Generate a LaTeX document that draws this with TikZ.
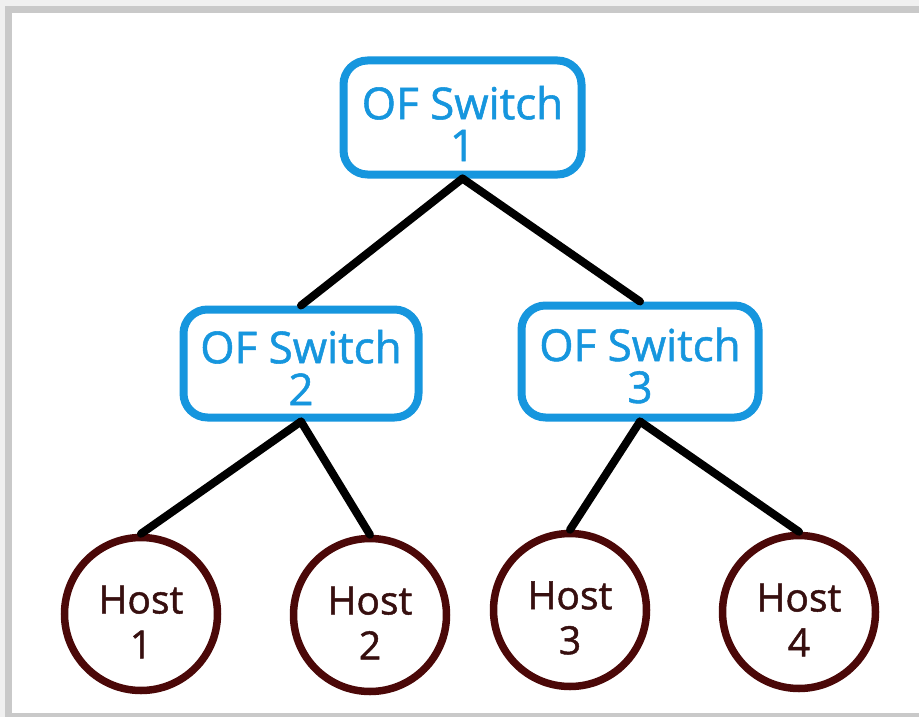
\documentclass[tikz,border=0pt]{standalone}
\usepackage{fontspec}
\setmainfont{Open Sans}
\newfontfamily\diagfont[FakeBold=1.2]{Open Sans}
\definecolor{swblue}{RGB}{22,150,222}
\definecolor{hostred}{RGB}{75,8,8}
\definecolor{hosttext}{RGB}{55,15,15}
\begin{document}
\begin{tikzpicture}[x=1pt,y=-1pt,
  switchbox/.style={draw=swblue,line width=8pt,rounded corners=24pt,fill=white,
    text=swblue,align=center,font=\diagfont\fontsize{44}{42}\selectfont,inner sep=0pt},
  switchtext/.style={text=swblue,align=center,font=\diagfont\fontsize{44}{42}\selectfont,inner sep=0pt},
  hostnode/.style={draw=hostred,line width=7.5pt,circle,minimum size=153pt,fill=white,inner sep=0pt},
  hosttxt/.style={text=hosttext,align=center,font=\diagfont\fontsize{39}{45}\selectfont,inner sep=0pt},
  link/.style={line width=8pt,black,line cap=round}]
\useasboundingbox (0,0) rectangle (919,717);
\fill[gray!12] (0,0) rectangle (919,717);
\fill[gray!42] (5,6) rectangle (919,717);
\fill[white] (12,13) rectangle (919,713);
% switches
\node[switchbox,minimum width=238pt,minimum height=114pt] (s1) at (462.5,117.5) {};
\node[switchbox,minimum width=235pt,minimum height=108pt] (s2) at (301,363.5) {};
\node[switchbox,minimum width=237pt,minimum height=112pt] (s3) at (640,361.5) {};
\node[switchtext] (t1) at ([yshift=-6pt]s1.center) {OF Switch\\1};
\node[switchtext] (t2) at ([yshift=-4pt]s2.center) {OF Switch\\2};
\node[switchtext] (t3) at ([yshift=-4pt]s3.center) {OF Switch\\3};
% hosts
\node[hostnode] (h1) at (141,614) {};
\node[hostnode] (h2) at (370,615) {};
\node[hostnode] (h3) at (570,610) {};
\node[hostnode] (h4) at (799,612) {};
\node[hosttxt] (l1) at ([yshift=-8pt]h1.center) {Host\\1};
\node[hosttxt] (l2) at ([yshift=-8pt]h2.center) {Host\\2};
\node[hosttxt] (l3) at ([yshift=-8pt]h3.center) {Host\\3};
\node[hosttxt] (l4) at ([yshift=-8pt]h4.center) {Host\\4};
% links
\draw[link] (s1.south) -- (s2.north);
\draw[link] (s1.south) -- (s3.north);
\draw[link] (s2.south) -- (h1.north);
\draw[link] (s2.south) -- (h2.north);
\draw[link] (s3.south) -- (h3.north);
\draw[link] (s3.south) -- (h4.north);
\end{tikzpicture}
\end{document}
